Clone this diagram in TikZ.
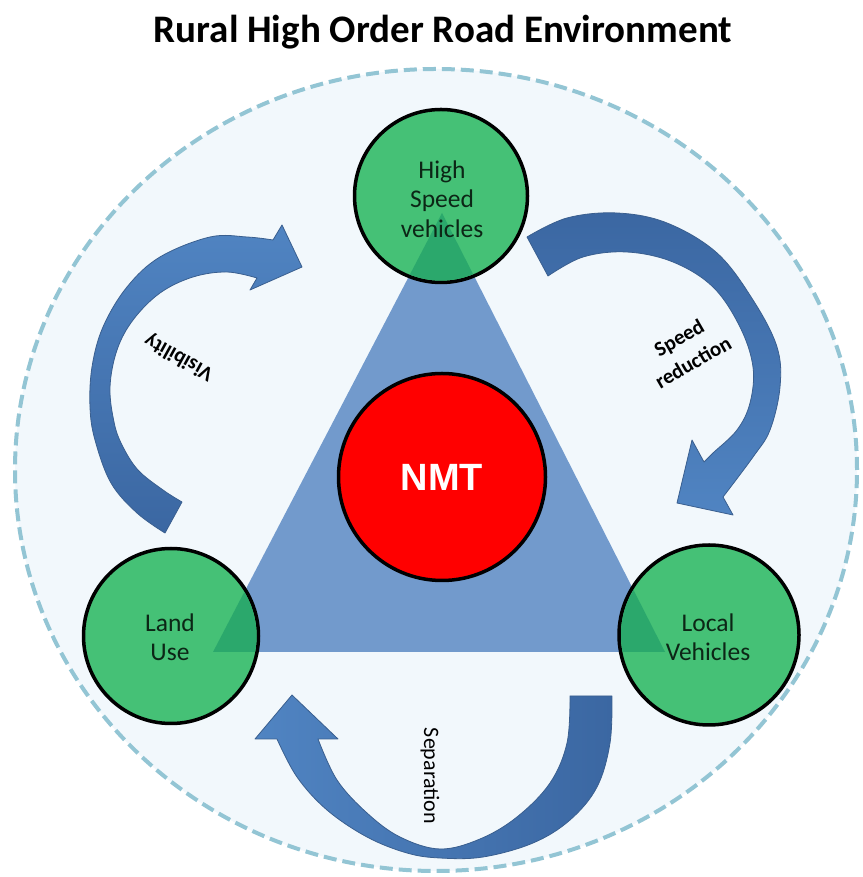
\documentclass[tikz,border=0pt]{standalone}
\usepackage{fontspec}
\setmainfont{Carlito}
\newfontfamily\nmtfont{Liberation Sans}
\definecolor{bgfill}{HTML}{F2F8FC}
\definecolor{dashc}{HTML}{93C5D4}
\definecolor{trif}{HTML}{729ACC}
\definecolor{greenf}{HTML}{45C176}
\definecolor{greend}{HTML}{2BA86C}
\definecolor{nmtred}{HTML}{FF0000}
\definecolor{arrl}{HTML}{5084C2}
\definecolor{arrd}{HTML}{3B67A2}
\definecolor{arrb}{HTML}{3A5F8F}
\definecolor{txtg}{HTML}{0C2616}
\begin{document}
\begin{tikzpicture}[x=1pt,y=1pt,
  greencirc/.style={circle, fill=greenf, draw=black, line width=3.5pt, inner sep=0pt},
  circtext/.style={align=center, font=\fontsize{25.5}{29.5}\selectfont, text=txtg},
  arrowshape/.style={draw=arrb, line width=0.8pt, line join=round},
  lbl/.style={font=\bfseries\fontsize{21}{28}\selectfont, align=center},
  lblreg/.style={font=\fontsize{22}{28}\selectfont, align=center}]
\useasboundingbox (0,0) rectangle (862,877);
\fill[white] (0,0) rectangle (862,877);
% outer environment
\path[fill=bgfill, draw=dashc, line width=4pt, dash pattern=on 13pt off 6pt] (436,407) ellipse [x radius=421, y radius=401];
% title
\node[font=\bfseries\fontsize{39}{47}\selectfont, anchor=base] (title) at (443,834) {Rural High Order Road Environment};
% triangle
\coordinate (ta) at (442,664);
\coordinate (tl) at (213,225);
\coordinate (tr) at (665,225);
\fill[trif] (ta) -- (tl) -- (tr) -- cycle;
% green circles
\node[greencirc, minimum size=173pt] (hs) at (441,681) {};
\node[greencirc, minimum size=175pt] (lu) at (171,241) {};
\node[greencirc, minimum size=180pt] (lv) at (709,242) {};
\begin{scope}
  \clip (hs.center) circle (84.5);
  \fill[greend] (ta) -- (tl) -- (tr) -- cycle;
\end{scope}
\begin{scope}
  \clip (lu.center) circle (85.5);
  \fill[greend] (ta) -- (tl) -- (tr) -- cycle;
\end{scope}
\begin{scope}
  \clip (lv.center) circle (88);
  \fill[greend] (ta) -- (tl) -- (tr) -- cycle;
\end{scope}
\node[circtext] (hst) at (442,678) {High\\Speed\\vehicles};
\node[circtext] (lut) at (170,240) {Land\\Use};
\node[circtext] (lvt) at (708,240) {Local\\Vehicles};
% NMT
\node[circle, fill=nmtred, draw=black, line width=3.5pt, minimum size=207pt, inner sep=0pt,
  font=\nmtfont\bfseries\fontsize{38}{44}\selectfont, text=white] (nmt) at (442,400) {NMT};
% arrows
\shadedraw[arrowshape, top color=arrl, bottom color=arrd]
  plot[smooth, tension=0.6] coordinates {(165,344) (137,364) (111,394) (95,437) (90,470) (92,510) (103,550) (127,590) (160,620) (210,640) (247,640) (273,637)}
  -- (282,652) -- (302,610) -- (250,587)
  -- plot[smooth, tension=0.6] coordinates {(257,599) (227,605) (193,600) (160,584) (133,557) (117,527) (110,490) (114,455) (122,432) (138,407) (163,387) (182,375)}
  -- cycle;
\shadedraw[arrowshape, top color=arrd, bottom color=arrl]
  plot[smooth, tension=0.6] coordinates {(527,640) (567,659) (617,664) (667,654) (717,624) (753,577) (777,530) (780,490) (770,447) (753,420) (723,380)}
  -- (733,362) -- (677,374) -- (692,437)
  -- plot[smooth, tension=0.6] coordinates {(704,415) (713,424) (737,447) (750,474) (753,510) (740,550) (713,590) (673,615) (627,625) (583,620) (548,601)}
  -- cycle;
\shadedraw[arrowshape, left color=arrl, right color=arrd]
  plot[smooth, tension=0.6] coordinates {(612,181) (610,134) (597,90) (570,57) (533,34) (483,20) (440,19) (407,24) (367,40) (327,67) (297,100) (277,138)}
  -- (255,138) -- (292,182) -- (338,138)
  -- plot[smooth, tension=0.6] coordinates {(318,138) (337,97) (367,64) (400,40) (440,28) (480,38) (517,60) (550,94) (567,134) (570,181)}
  -- cycle;
% labels
\node[lbl, rotate=151] (vis) at (179,520) {Visibility};
\node[lbl, rotate=30] (spd) at (686,527) {Speed\\reduction};
\node[lblreg, rotate=-90] (sep) at (430,101) {Separation};
\end{tikzpicture}
\end{document}
